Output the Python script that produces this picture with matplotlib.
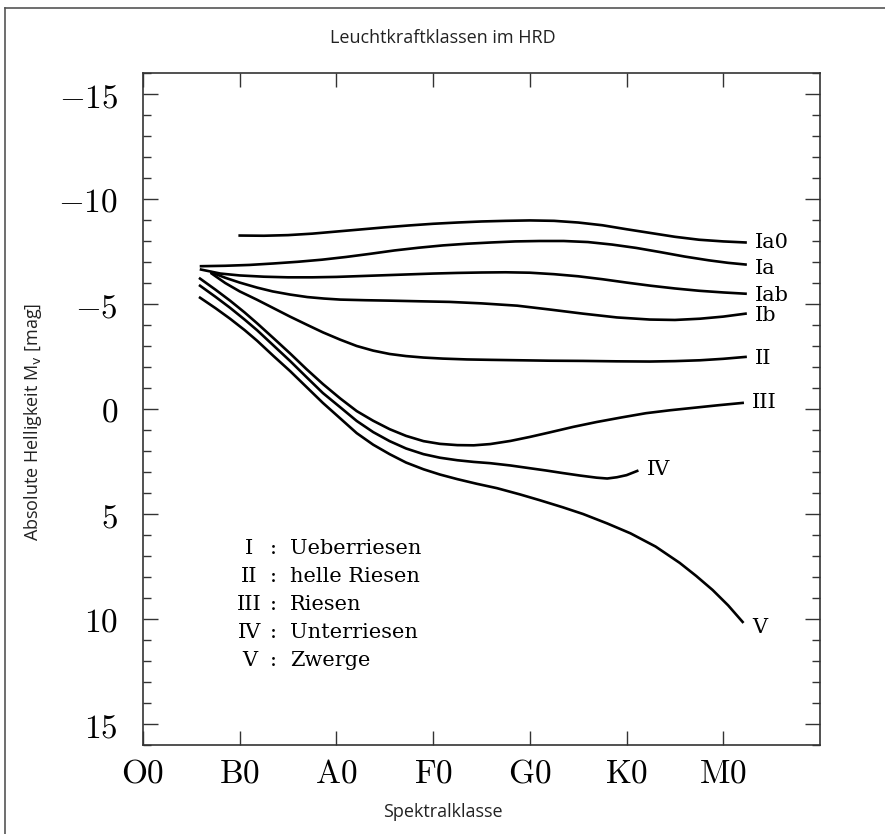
import matplotlib
matplotlib.use("Agg")
import matplotlib.pyplot as plt
from matplotlib.lines import Line2D

plt.rcParams['mathtext.fontset'] = 'cm'

# spectral class position (0 = O0 ... 6 = M0), absolute magnitude M_v
ia0_x = [1.00, 1.25, 1.50, 1.75, 2.00, 2.25, 2.50, 2.75, 3.00, 3.25, 3.50, 3.75,
         4.00, 4.25, 4.50, 4.75, 5.00, 5.25, 5.50, 5.75, 6.00, 6.23]
ia0_m = [-8.26, -8.25, -8.28, -8.35, -8.45, -8.55, -8.65, -8.74, -8.82, -8.88, -8.93, -8.96,
         -8.98, -8.96, -8.88, -8.75, -8.56, -8.38, -8.20, -8.06, -7.98, -7.93]

ia_x = [0.60, 0.85, 1.10, 1.35, 1.60, 1.85, 2.10, 2.35, 2.60, 2.85, 3.10, 3.35,
        3.60, 3.85, 4.10, 4.35, 4.60, 4.85, 5.10, 5.35, 5.60, 5.85, 6.05, 6.23]
ia_m = [-6.80, -6.82, -6.86, -6.93, -7.01, -7.11, -7.24, -7.39, -7.55, -7.68, -7.79, -7.87,
        -7.93, -7.98, -8.00, -8.00, -7.95, -7.83, -7.67, -7.47, -7.26, -7.08, -6.96, -6.88]

iab_x = [0.60, 0.80, 1.00, 1.25, 1.50, 1.75, 2.00, 2.25, 2.50, 2.75, 3.00, 3.25,
         3.50, 3.75, 4.00, 4.25, 4.50, 4.75, 5.00, 5.25, 5.50, 5.75, 6.00, 6.23]
iab_m = [-6.64, -6.45, -6.36, -6.30, -6.27, -6.27, -6.29, -6.33, -6.37, -6.41, -6.45, -6.48,
         -6.50, -6.51, -6.49, -6.42, -6.32, -6.18, -6.02, -5.87, -5.74, -5.63, -5.55, -5.49]

ib_x = [0.71, 0.85, 1.00, 1.18, 1.34, 1.52, 1.70, 1.87, 2.04, 2.30, 2.55, 2.85,
        3.17, 3.50, 3.87, 4.20, 4.55, 4.90, 5.24, 5.50, 5.76, 6.00, 6.23]
ib_m = [-6.50, -6.25, -6.02, -5.78, -5.60, -5.45, -5.33, -5.26, -5.21, -5.18, -5.16, -5.13,
        -5.10, -5.03, -4.92, -4.74, -4.54, -4.36, -4.26, -4.24, -4.30, -4.40, -4.54]

ii_x = [0.71, 0.85, 1.00, 1.18, 1.35, 1.52, 1.70, 1.86, 2.04, 2.21, 2.38, 2.55, 2.72,
        2.90, 3.10, 3.35, 3.60, 3.90, 4.20, 4.55, 4.90, 5.24, 5.50, 5.76, 6.00, 6.23]
ii_m = [-6.45, -6.00, -5.60, -5.20, -4.80, -4.40, -4.00, -3.65, -3.30, -3.00, -2.78, -2.62, -2.52,
        -2.45, -2.40, -2.36, -2.34, -2.32, -2.30, -2.29, -2.27, -2.26, -2.28, -2.32, -2.39, -2.48]

iii_x = [0.59, 0.75, 0.90, 1.05, 1.18, 1.35, 1.52, 1.69, 1.86, 2.04, 2.21, 2.38, 2.55, 2.72, 2.90,
         3.07, 3.25, 3.42, 3.59, 3.80, 4.00, 4.20, 4.45, 4.69, 4.95, 5.20, 5.45, 5.70, 5.95, 6.20]
iii_m = [-6.21, -5.68, -5.16, -4.60, -4.08, -3.37, -2.65, -1.90, -1.19, -0.50, 0.10, 0.56, 0.96, 1.28, 1.53,
         1.66, 1.72, 1.73, 1.67, 1.52, 1.33, 1.12, 0.85, 0.62, 0.40, 0.20, 0.06, -0.06, -0.18, -0.29]

iv_x = [0.59, 0.75, 0.90, 1.05, 1.18, 1.35, 1.52, 1.69, 1.86, 2.04, 2.21, 2.38, 2.55, 2.72, 2.90,
        3.07, 3.25, 3.42, 3.59, 3.80, 4.00, 4.17, 4.34, 4.52, 4.69, 4.80, 4.90, 5.00, 5.11]
iv_m = [-5.87, -5.34, -4.82, -4.26, -3.75, -3.02, -2.29, -1.52, -0.76, -0.08, 0.57, 1.10, 1.53, 1.88, 2.15,
        2.32, 2.44, 2.52, 2.58, 2.69, 2.82, 2.93, 3.05, 3.17, 3.27, 3.31, 3.25, 3.15, 2.95]

v_x = [0.59, 0.75, 0.90, 1.05, 1.18, 1.35, 1.52, 1.69, 1.86, 2.04, 2.21, 2.38, 2.55, 2.72, 2.90, 3.07,
       3.25, 3.45, 3.66, 3.90, 4.10, 4.34, 4.55, 4.80, 5.04, 5.30, 5.55, 5.72, 5.89, 6.05, 6.20]
v_m = [-5.30, -4.80, -4.30, -3.76, -3.25, -2.52, -1.81, -1.05, -0.29, 0.45, 1.15, 1.70, 2.15, 2.55, 2.87, 3.12,
       3.34, 3.56, 3.77, 4.07, 4.34, 4.68, 5.00, 5.45, 5.92, 6.55, 7.33, 7.95, 8.62, 9.35, 10.14]

curve_names = ['Ia0', 'Ia', 'Iab', 'Ib', 'II', 'III', 'IV', 'V']
spec_labels = ['O0', 'B0', 'A0', 'F0', 'G0', 'K0', 'M0']
mag_ticks = [-15, -10, -5, 0, 5, 10, 15]

legend_num = ['I', 'II', 'III', 'IV', 'V']
legend_txt = ['Ueberriesen', 'helle Riesen', 'Riesen', 'Unterriesen', 'Zwerge']

curves = [(ia0_x, ia0_m), (ia_x, ia_m), (iab_x, iab_m), (ib_x, ib_m),
          (ii_x, ii_m), (iii_x, iii_m), (iv_x, iv_m), (v_x, v_m)]
# small vertical nudges (points) for the end labels
label_dy = [0, -3, -1, -1, -1, 0, 1, -4]

fig = plt.figure(figsize=(8.85, 8.34), dpi=100)
ax = fig.add_axes([143 / 885, 89 / 834, 677 / 885, 672 / 834])

for (xs, ms), name, dy in zip(curves, curve_names, label_dy):
    ax.plot(xs, ms, color='black', lw=1.9, solid_joinstyle='round')
    ax.annotate(name, (xs[-1], ms[-1]), xytext=(7, dy), textcoords='offset points',
                va='center', ha='left', fontsize=15, family='DejaVu Serif')

ax.set_xlim(0, 7)
ax.set_ylim(16, -16)

ax.set_xticks(range(len(spec_labels)))
ax.set_xticklabels([r'$\mathrm{%s}$' % s for s in spec_labels], fontsize=24)
ax.set_yticks(mag_ticks)
ax.set_yticklabels([r'$%d$' % v for v in mag_ticks], fontsize=24)
ax.set_yticks(range(-16, 17), minor=True)

ax.tick_params(axis='both', which='both', direction='in', top=True, right=True,
               color='#333333', width=1.0)
ax.tick_params(axis='y', which='major', length=11, pad=18)
ax.tick_params(axis='y', which='minor', length=6)
ax.tick_params(axis='x', which='major', length=10, pad=8)
for sp in ax.spines.values():
    sp.set_color('#333333')
    sp.set_linewidth(1.2)

# key to luminosity classes
for i, (num, txt) in enumerate(zip(legend_num, legend_txt)):
    yy = 6.64 + i * 1.33
    ax.text(1.10, yy, num, ha='center', va='center', fontsize=15, family='DejaVu Serif')
    ax.text(1.35, yy, ':', ha='center', va='center', fontsize=15, family='DejaVu Serif')
    ax.text(1.52, yy, txt, ha='left', va='center', fontsize=15, family='DejaVu Serif')

fig.text(0.5, 1 - 38 / 834, 'Leuchtkraftklassen im HRD', ha='center', va='center',
         fontsize=13, family='Open Sans', color='#222222')
fig.text(0.5, 1 - 812 / 834, 'Spektralklasse', ha='center', va='center',
         fontsize=13, family='Open Sans', color='#222222')
fig.text(33 / 885, 1 - 422 / 834, r'Absolute Helligkeit M$_\mathrm{v}$ [mag]',
         rotation=90, ha='center', va='center', fontsize=13, family='Open Sans',
         math_fontfamily='dejavusans', color='#222222')

# outer frame (only left and top edges visible)
fig.add_artist(Line2D([5 / 885, 5 / 885], [0, 1 - 8 / 834], transform=fig.transFigure,
                      color='#555555', lw=1.2))
fig.add_artist(Line2D([5 / 885, 1], [1 - 8 / 834, 1 - 8 / 834], transform=fig.transFigure,
                      color='#555555', lw=1.2))

fig.savefig('out.png', dpi=100)
